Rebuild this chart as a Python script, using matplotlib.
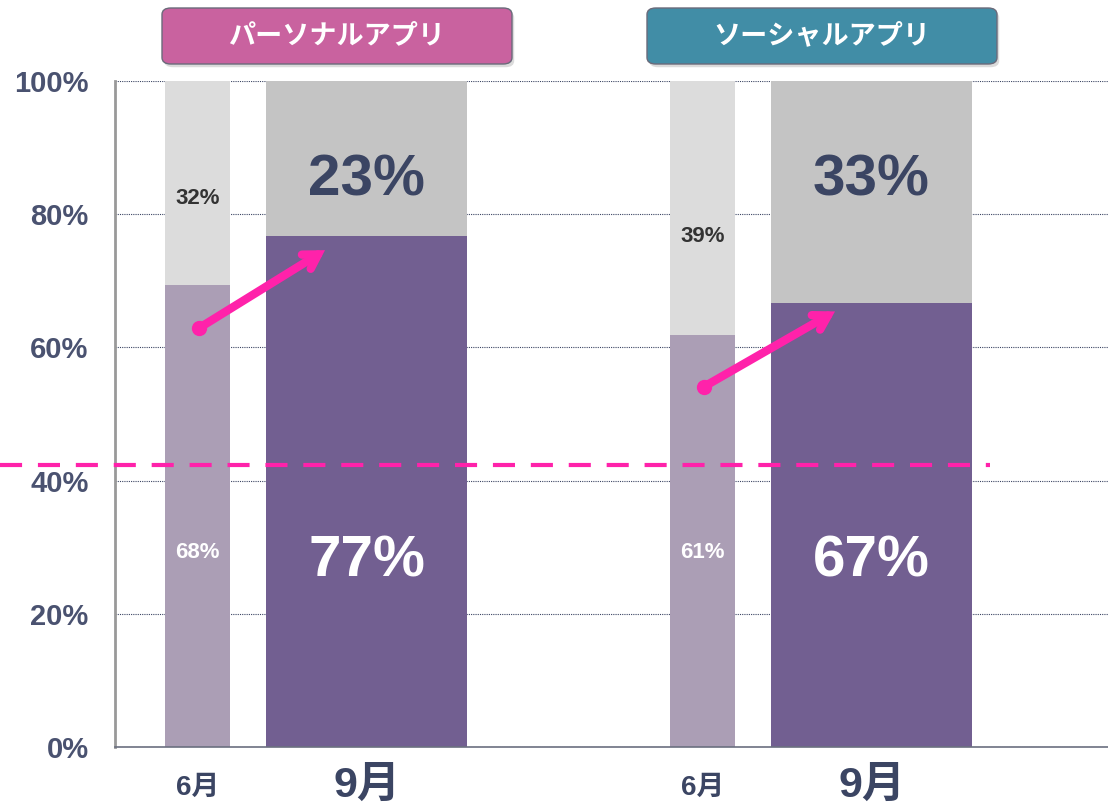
import matplotlib.pyplot as plt
from matplotlib.patches import FancyBboxPatch

plt.rcParams['font.family'] = ['Liberation Sans', 'Noto Sans CJK JP', 'DejaVu Sans']

# data
groups = ["パーソナルアプリ", "ソーシャルアプリ"]
months = ["6月", "9月"]
june_vals = [69.3, 61.9]
sept_vals = [76.8, 66.7]
june_low_labels = ["68%", "61%"]
june_top_labels = ["32%", "39%"]
sept_low_labels = ["77%", "67%"]
sept_top_labels = ["23%", "33%"]
threshold = 42.3
yticks = [0, 20, 40, 60, 80, 100]

# colours
c_june_low = "#ab9eb5"
c_june_top = "#dcdcdc"
c_sept_low = "#725f91"
c_sept_top = "#c4c4c4"
c_text = "#3b4563"
c_pink = "#ff22aa"
header_colors = ["#c9629f", "#418da6"]

fig = plt.figure(figsize=(11.08, 8.09), dpi=100)
ax = fig.add_axes([0.1038, 0.0766, 0.8962, 0.8233])

group_offset = 505
june_x = [82.5 + i * group_offset for i in range(2)]
sept_x = [251.5 + i * group_offset for i in range(2)]
w_june = 65
w_sept = 201
june_top_label_y = [82.4, 76.7]

ax.bar(june_x, june_vals, width=w_june, color=c_june_low, zorder=2)
ax.bar(june_x, [100 - v for v in june_vals], width=w_june, bottom=june_vals,
       color=c_june_top, zorder=2)
ax.bar(sept_x, sept_vals, width=w_sept, color=c_sept_low, zorder=2)
ax.bar(sept_x, [100 - v for v in sept_vals], width=w_sept, bottom=sept_vals,
       color=c_sept_top, zorder=2)

for i in range(2):
    # june labels
    ax.text(june_x[i], 29.2, june_low_labels[i], ha='center', va='center',
            color='white', fontsize=16, fontweight='bold', zorder=4)
    ax.text(june_x[i], june_top_label_y[i], june_top_labels[i],
            ha='center', va='center', color='#333333', fontsize=16, fontweight='bold', zorder=4)
    # sept labels
    ax.text(sept_x[i], 27.8, sept_low_labels[i], ha='center', va='center',
            color='white', fontsize=42, fontweight='bold', zorder=4)
    ax.text(sept_x[i], 85, sept_top_labels[i], ha='center', va='center',
            color=c_text, fontsize=42, fontweight='bold', zorder=4)
    # x labels
    ax.text(june_x[i], -6.1, months[0], ha='center', va='center',
            color=c_text, fontsize=20, fontweight='bold', clip_on=False)
    ax.text(sept_x[i], -5.9, months[1], ha='center', va='center',
            color=c_text, fontsize=31, fontweight='bold', clip_on=False)

# pink arrows
arrows = [((84, 62.9), (210, 74.6)), ((589, 54.1), (720, 65.4))]
for start, end in arrows:
    ax.annotate("", xy=end, xytext=start,
                arrowprops=dict(arrowstyle="->,head_length=1.0,head_width=0.6",
                                color=c_pink, lw=6, shrinkA=0, shrinkB=0,
                                capstyle='round', joinstyle='miter'), zorder=5)
    ax.plot(*start, 'o', color=c_pink, markersize=10, zorder=6)

# threshold line
ax.plot([-115, 875], [threshold, threshold], color=c_pink, lw=3,
        dashes=(5.3, 3.8), clip_on=False, zorder=5)

ax.set_xlim(0, 993)
ax.set_ylim(0, 100)
ax.set_yticks(yticks)
ax.set_yticklabels([f"{v}%" for v in yticks], fontsize=21, fontweight='bold', color="#4a5270")
ax.set_xticks([])
ax.tick_params(axis='y', length=0, pad=19)
ax.grid(axis='y', color='#3b4563', linestyle=(0, (1, 1)), linewidth=0.8, zorder=1)
for s in ['top', 'right']:
    ax.spines[s].set_visible(False)
ax.spines['left'].set_color('#999999')
ax.spines['left'].set_linewidth(2)
ax.spines['bottom'].set_color('#6b7080')
ax.spines['bottom'].set_linewidth(1.2)

# header boxes
box_lefts = [162, 647]
for i, g in enumerate(groups):
    x0 = box_lefts[i] / 1108
    y0 = (809 - 64) / 809
    w = 350 / 1108
    h = 56 / 809
    shadow = FancyBboxPatch((x0 + 0.002, y0 - 0.004), w, h,
                            boxstyle="round,pad=0,rounding_size=0.008",
                            transform=fig.transFigure, facecolor='#cccccc',
                            edgecolor='none', alpha=0.7)
    fig.patches.append(shadow)
    box = FancyBboxPatch((x0, y0), w, h, boxstyle="round,pad=0,rounding_size=0.008",
                         transform=fig.transFigure, facecolor=header_colors[i],
                         edgecolor='#6a6a7a', linewidth=1)
    fig.patches.append(box)
    fig.text(x0 + w / 2, y0 + h / 2, g, ha='center', va='center', color='white',
             fontsize=19.5, fontweight='bold')

fig.savefig("out.png", dpi=100)
